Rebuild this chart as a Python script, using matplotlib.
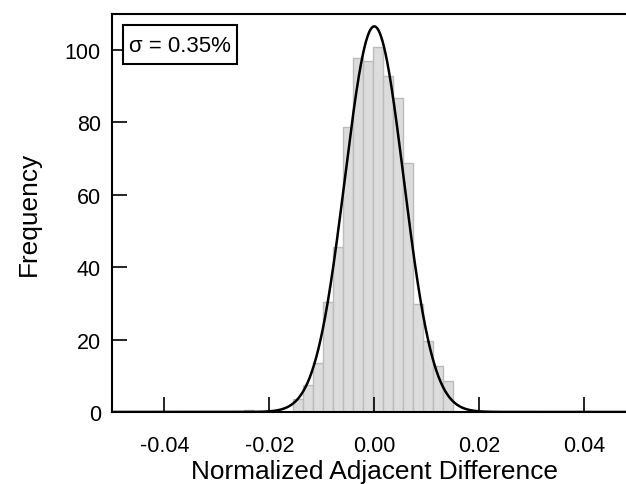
import numpy as np
import matplotlib
matplotlib.use("Agg")
import matplotlib.pyplot as plt
from matplotlib.patches import Rectangle

# histogram bins (left edges) and counts
bin_width = 0.0019
bin_lefts = [-0.0249, -0.0154, -0.0135, -0.0116, -0.0097, -0.0078, -0.0059, -0.0040,
             -0.0021, -0.0002, 0.0017, 0.0036, 0.0055, 0.0074, 0.0093, 0.0112, 0.0131]
counts = [0.6, 3.5, 7.5, 13.6, 30.4, 45.6, 78.8, 97.8,
          96.8, 100.7, 92.9, 86.8, 68.8, 29.8, 19.6, 12.7, 8.6]

# gaussian fit drawn over the histogram
fit_amp = 106.5
fit_center = 0.0
fit_sigma = 0.0056
label_text = "\u03c3 = 0.35%"

xticks = [-0.04, -0.02, 0.00, 0.02, 0.04]
yticks = [0, 20, 40, 60, 80, 100]

plt.rcParams["font.family"] = ["Liberation Sans", "DejaVu Sans"]

fig = plt.figure(figsize=(6.26, 4.85), dpi=100)
ax = fig.add_axes([0.1789, 0.1485, 0.838, 0.8212])

ax.bar(bin_lefts, counts, width=bin_width, align="edge",
       color="#dcdcdc", edgecolor="#bcbcbc", linewidth=1.0, zorder=1)

xs = np.linspace(-0.05, 0.05, 1000)
ys = fit_amp * np.exp(-0.5 * ((xs - fit_center) / fit_sigma) ** 2)
ax.plot(xs, ys, color="black", linewidth=1.8, zorder=3)

ax.set_xlim(-0.05, 0.05)
ax.set_ylim(0, 110)
ax.set_xticks(xticks)
ax.set_xticklabels(["%.2f" % t for t in xticks])
ax.set_yticks(yticks)

for sp in ax.spines.values():
    sp.set_linewidth(1.5)
ax.tick_params(direction="in", length=10.8, width=1.2, labelsize=15.5)
ax.tick_params(axis="x", pad=16.5)
ax.tick_params(axis="y", pad=8)

ax.set_xlabel("Normalized Adjacent Difference", fontsize=18.9, labelpad=2)
ax.set_ylabel("Frequency", fontsize=18.9, labelpad=17)

# legend-like box with the fitted width
ax.add_patch(Rectangle((0.021, 0.8736), 0.217, 0.098, transform=ax.transAxes,
                       facecolor="white", edgecolor="black", linewidth=1.5, zorder=4))
ax.text(0.1296, 0.9205, label_text, transform=ax.transAxes, fontsize=16,
        va="center", ha="center", zorder=5)

fig.savefig("out.png", dpi=100)
